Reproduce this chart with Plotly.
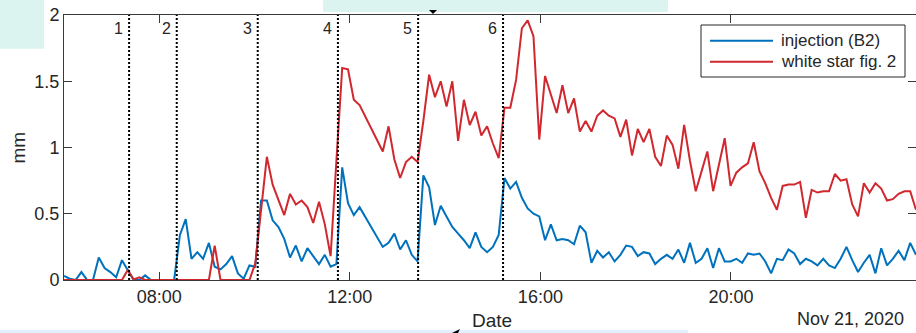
import pandas as pd
import plotly.graph_objects as go

# Sampling grid: one reading every 7.3 min through Nov 21, 2020
times = pd.date_range("2020-11-21 06:00:00", periods=148, freq="438s")

# Displacement (mm) of the injection point B2
injection_b2 = [
    0.03, 0.01, 0.0, 0.06, 0.0, 0.0, 0.17, 0.09, 0.06, 0.02,
    0.15, 0.08, 0.0, 0.0, 0.035, 0.0, 0.0, 0.0, 0.0, 0.0,
    0.34, 0.46, 0.16, 0.21, 0.16, 0.28, 0.10, 0.08, 0.12, 0.18,
    0.05, 0.01, 0.11, 0.10, 0.60, 0.60, 0.45, 0.40, 0.31, 0.17,
    0.26, 0.14, 0.24, 0.18, 0.12, 0.19, 0.10, 0.12, 0.85, 0.58,
    0.49, 0.55, None, None, None, 0.25, 0.28, 0.35, 0.23, 0.30,
    0.19, 0.14, 0.79, 0.70, 0.415, 0.56, 0.48, 0.40, 0.35, 0.30,
    0.24, 0.36, 0.25, 0.21, 0.25, 0.34, 0.77, 0.69, 0.74, 0.62,
    0.54, 0.50, 0.48, 0.30, 0.42, 0.30, 0.31, 0.30, 0.27, 0.41,
    0.36, 0.13, 0.22, 0.17, 0.21, 0.14, 0.19, 0.26, 0.25, 0.18,
    0.21, 0.20, 0.12, 0.16, 0.19, 0.16, 0.23, 0.13, 0.28, 0.13,
    0.16, 0.24, 0.09, 0.24, 0.14, 0.14, 0.16, 0.13, 0.20, 0.19,
    0.20, 0.14, 0.05, 0.16, 0.15, 0.23, 0.20, 0.12, 0.16, 0.14,
    0.11, 0.16, 0.11, 0.09, 0.16, 0.25, 0.15, 0.06, 0.13, 0.19,
    0.05, 0.24, 0.11, 0.16, 0.22, 0.15, 0.28, 0.19,
]

# Displacement (mm) of the white star target
white_star = [
    0.0, 0.0, 0.0, 0.0, 0.0, 0.0, 0.0, 0.0, 0.0, 0.0,
    0.0, 0.075, 0.005, 0.02, 0.0, 0.0, 0.0, 0.0, 0.0, 0.0,
    0.0, 0.0, 0.0, 0.0, 0.0, 0.0, 0.26, 0.0, 0.0, 0.0,
    0.0, 0.0, 0.0, 0.125, 0.55, 0.93, 0.72, 0.60, 0.49, 0.65,
    0.57, 0.60, 0.55, 0.43, 0.59, 0.42, 0.18, 0.90, 1.60, 1.59,
    1.36, 1.32, None, None, None, 0.97, 1.16, 0.91, 0.77, 0.89,
    0.93, 0.89, 1.20, 1.55, 1.38, 1.50, 1.31, 1.50, 1.05, 1.36,
    1.17, 1.27, 1.09, 1.16, 1.03, 0.92, 1.30, 1.30, 1.51, 1.90,
    1.96, 1.84, 1.06, 1.54, 1.40, 1.26, 1.47, 1.26, 1.37, 1.12,
    1.20, 1.12, 1.24, 1.28, 1.24, 1.22, 1.08, 1.21, 0.94, 1.14,
    1.04, 1.14, 0.93, 0.86, 1.09, 1.02, 0.84, 1.17, 0.90, 0.67,
    0.82, 0.97, 0.67, 0.87, 1.07, 0.71, 0.81, 0.85, 0.88, 1.04,
    0.82, 0.73, 0.62, 0.53, 0.71, 0.72, 0.72, 0.74, 0.47, 0.68,
    0.66, 0.67, 0.67, 0.80, 0.75, 0.76, 0.57, 0.48, 0.73, 0.66,
    0.73, 0.69, 0.60, 0.61, 0.65, 0.67, 0.67, 0.53,
]

# Injection events
event_times = ["07:22", "08:22", "10:04", "11:45", "13:26", "15:13"]
event_labels = ["1", "2", "3", "4", "5", "6"]

x_ticks = ["08:00", "12:00", "16:00", "20:00"]
y_ticks = [0, 0.5, 1, 1.5, 2]
y_ticktext = ["0", "0.5", "1", "1.5", "2"]

series_names = ["injection (B2)", "white star fig. 2"]
series_colors = ["#0072BD", "#D0282E"]

DAY = "2020-11-21 "
FONT = "Liberation Sans, Arial, sans-serif"
INK = "#262626"
AXIS = "#3a3a3a"

W, H = 916, 333
L, R, T, B = 64, 0, 15, 53
PW, PH = W - L - R, H - T - B


def px(x):
    return (x - L) / PW


def py(y):
    return (H - B - y) / PH


fig = go.Figure()

for name, vals, color in zip(series_names, [injection_b2, white_star], series_colors):
    fig.add_trace(go.Scatter(
        x=times, y=vals, mode="lines", name=name, connectgaps=True,
        line=dict(color=color, width=2), showlegend=False,
    ))

# dotted event markers
ex, ey = [], []
for t in event_times:
    ex += [DAY + t, DAY + t, None]
    ey += [0, 2, None]
fig.add_trace(go.Scatter(
    x=ex, y=ey, mode="lines", showlegend=False, hoverinfo="skip",
    line=dict(color="black", width=2, dash="2px,2px"),
))

annotations = []
for t, lab in zip(event_times, event_labels):
    annotations.append(dict(
        x=DAY + t, y=py(29), xref="x", yref="paper", text=lab,
        showarrow=False, xanchor="right", yanchor="middle", xshift=-4,
        font=dict(family=FONT, size=16, color=INK),
    ))

annotations += [
    dict(x=px(18), y=0.5, xref="paper", yref="paper", text="mm", textangle=-90,
         xanchor="center", yanchor="middle",
         showarrow=False, font=dict(family=FONT, size=19, color=INK)),
    dict(x=px(492), y=py(320), xref="paper", yref="paper", text="Date",
         xanchor="center", yanchor="middle",
         showarrow=False, font=dict(family=FONT, size=19, color=INK)),
    dict(x=px(906), y=py(319), xref="paper", yref="paper", text="Nov 21, 2020",
         showarrow=False, xanchor="right", yanchor="middle",
         font=dict(family=FONT, size=18, color=INK)),
]

# legend box
shapes = [
    dict(type="rect", xref="paper", yref="paper", x0=px(701), x1=px(905),
         y0=py(77), y1=py(25), line=dict(color=INK, width=1), fillcolor="white"),
]
for k, (name, color) in enumerate(zip(series_names, series_colors)):
    yy = py(40.7 + 21 * k)
    shapes.append(dict(type="line", xref="paper", yref="paper", x0=px(710), x1=px(773),
                       y0=yy, y1=yy, line=dict(color=color, width=2)))
    annotations.append(dict(x=px(779), y=yy, xref="paper", yref="paper", text=name,
                            showarrow=False, xanchor="left", yanchor="middle",
                            font=dict(family=FONT, size=17, color=INK)))

# pale panels around the figure
shapes += [
    dict(type="rect", xref="paper", yref="paper", x0=px(0), x1=px(44), y0=py(48.7), y1=py(0),
         line=dict(width=0), fillcolor="rgb(220,244,240)", layer="above"),
    dict(type="rect", xref="paper", yref="paper", x0=px(323), x1=px(668), y0=py(12), y1=py(0),
         line=dict(width=0), fillcolor="rgb(220,244,240)", layer="above"),
    dict(type="rect", xref="paper", yref="paper", x0=px(0), x1=px(688), y0=py(333), y1=py(330),
         line=dict(width=0), fillcolor="rgb(227,239,252)", layer="above"),
    dict(type="path", xref="paper", yref="paper", layer="above",
         path=f"M {px(429)} {py(10)} L {px(437)} {py(10)} L {px(433)} {py(14)} Z",
         fillcolor="black", line=dict(width=0)),
    dict(type="path", xref="paper", yref="paper", layer="above",
         path=f"M {px(452)} {py(333)} L {px(460)} {py(329)} L {px(458)} {py(333)} Z",
         fillcolor="black", line=dict(width=0)),
]

fig.update_layout(
    width=W, height=H,
    margin=dict(l=L, r=R, t=T, b=B),
    paper_bgcolor="white", plot_bgcolor="white",
    font=dict(family=FONT, color=INK),
    annotations=annotations, shapes=shapes,
    showlegend=False,
)
fig.update_xaxes(
    type="date", range=[times[0], times[-1]],
    tickvals=[DAY + t for t in x_ticks], tickformat="%H:%M",
    ticks="inside", ticklen=8, tickcolor=AXIS, tickwidth=1,
    showline=True, linecolor=AXIS, linewidth=1, mirror="ticks",
    showgrid=False, zeroline=False,
    tickfont=dict(family=FONT, size=18, color=INK),
)
fig.update_yaxes(
    range=[0, 2], tickvals=y_ticks, ticktext=y_ticktext,
    ticks="inside", ticklen=8, tickcolor=AXIS, tickwidth=1,
    showline=True, linecolor=AXIS, linewidth=1, mirror="ticks",
    showgrid=False, zeroline=False,
    tickfont=dict(family=FONT, size=18, color=INK),
)

fig.write_html("out.html")
